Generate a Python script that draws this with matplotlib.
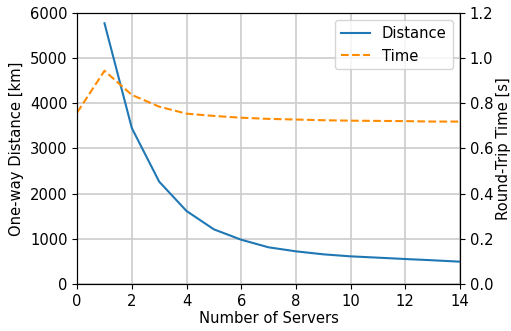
import numpy as np
import matplotlib
matplotlib.use('Agg')
import matplotlib.pyplot as plt

# Dane
servers_dist = [1, 2, 3, 4, 5, 6, 7, 8, 9, 10, 11, 12, 13, 14]
distance_km = [5770, 3450, 2265, 1616, 1210, 980, 812, 723, 657, 612, 583, 553, 525, 494]

servers_time = [0, 1, 2, 3, 4, 5, 6, 7, 8, 9, 10, 11, 12, 13, 14]
rtt_s = [0.759, 0.944, 0.837, 0.785, 0.754, 0.744, 0.736, 0.731, 0.728, 0.725,
         0.723, 0.722, 0.721, 0.719, 0.719]

plt.rcParams['font.size'] = 10.6

fig, ax1 = plt.subplots(figsize=(5.11, 3.31), dpi=100)
fig.subplots_adjust(left=0.151, right=0.900, top=0.961, bottom=0.142)

l1, = ax1.plot(servers_dist, distance_km, color='#1f77b4', linewidth=1.5, label='Distance')
ax1.set_xlim(0, 14)
ax1.set_ylim(0, 6000)
ax1.set_xticks(np.arange(0, 15, 2))
ax1.set_xlabel('Number of Servers', labelpad=2)
ax1.set_ylabel('One-way Distance [km]')
ax1.grid(True, color='#cccccc', linewidth=1.2)

ax2 = ax1.twinx()
l2, = ax2.plot(servers_time, rtt_s, color='darkorange', linestyle='--', linewidth=1.5, label='Time')
ax2.set_ylim(0, 1.2)
ax2.set_ylabel('Round-Trip Time [s]', labelpad=2)

ax2.legend(handles=[l1, l2], loc='upper right')

plt.savefig('out.png', dpi=100)
